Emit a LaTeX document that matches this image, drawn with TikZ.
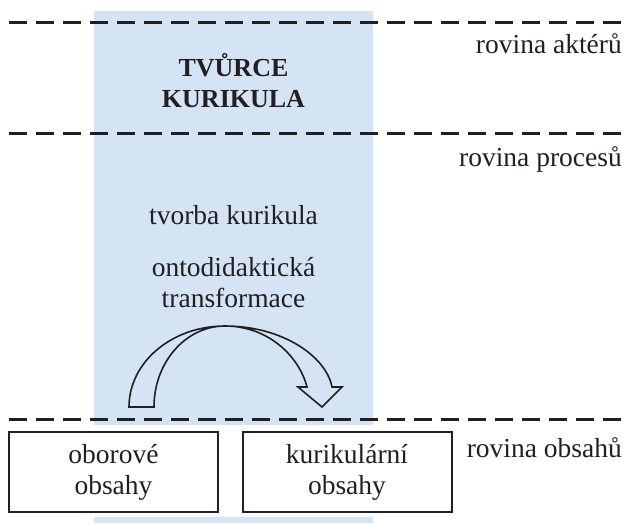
\documentclass[tikz,border=0pt]{standalone}
\usepackage{fontspec}
\setmainfont{Liberation Serif}
\definecolor{colblue}{HTML}{D4E4F4}
\definecolor{ink}{HTML}{231F20}
\begin{document}
\begin{tikzpicture}[x=1pt,y=-1pt,
  every node/.style={text=ink,font=\fontsize{27.5}{31}\selectfont,inner sep=0pt},
  level/.style={draw=ink,line width=3pt,dash pattern=on 18pt off 9pt},
  contentbox/.style={draw=ink,line width=2pt,minimum width=209pt,minimum height=80pt,align=center},
  label/.style={anchor=base east},
  colabel/.style={align=center}]
\useasboundingbox (0,0) rectangle (626,523);
% blue column
\fill[colblue] (94,11) rectangle (373,425);
\fill[colblue] (94,517) rectangle (373,523);
% level lines
\draw[level] (9,22) -- (626,22);
\draw[level] (9,133) -- (626,133);
\draw[level] (9,419) -- (626,419);
% labels
\node[label] (la) at (622,53) {rovina aktérů};
\node[label] (lp) at (622,166) {rovina procesů};
\node[label] (lo) at (622,457) {rovina obsahů};
% actor
\node[colabel,font=\fontsize{26}{31}\selectfont\bfseries] (actor) at (233.5,81) {TVŮRCE\\KURIKULA};
% processes
\node[colabel] (proc) at (233.5,215) {tvorba kurikula};
\node[colabel] (trans) at (233.5,283) {ontodidaktická\\transformace};
% arrow
\draw[draw=ink,line width=1.6pt,line join=miter]
  (129,407) .. controls (129,362) and (172,326) .. (225,326)
  .. controls (282,326) and (326,356) .. (332,387)
  -- (342,387) -- (322,407) -- (298,387) -- (307,387)
  .. controls (299,356) and (268,326) .. (225,326)
  .. controls (186,326) and (154,362) .. (154,407) -- cycle;
% content boxes
\node[contentbox] (obor) at (113.5,472) {oborové\\obsahy};
\node[contentbox] (kur) at (347,472) {kurikulární\\obsahy};
\end{tikzpicture}
\end{document}
